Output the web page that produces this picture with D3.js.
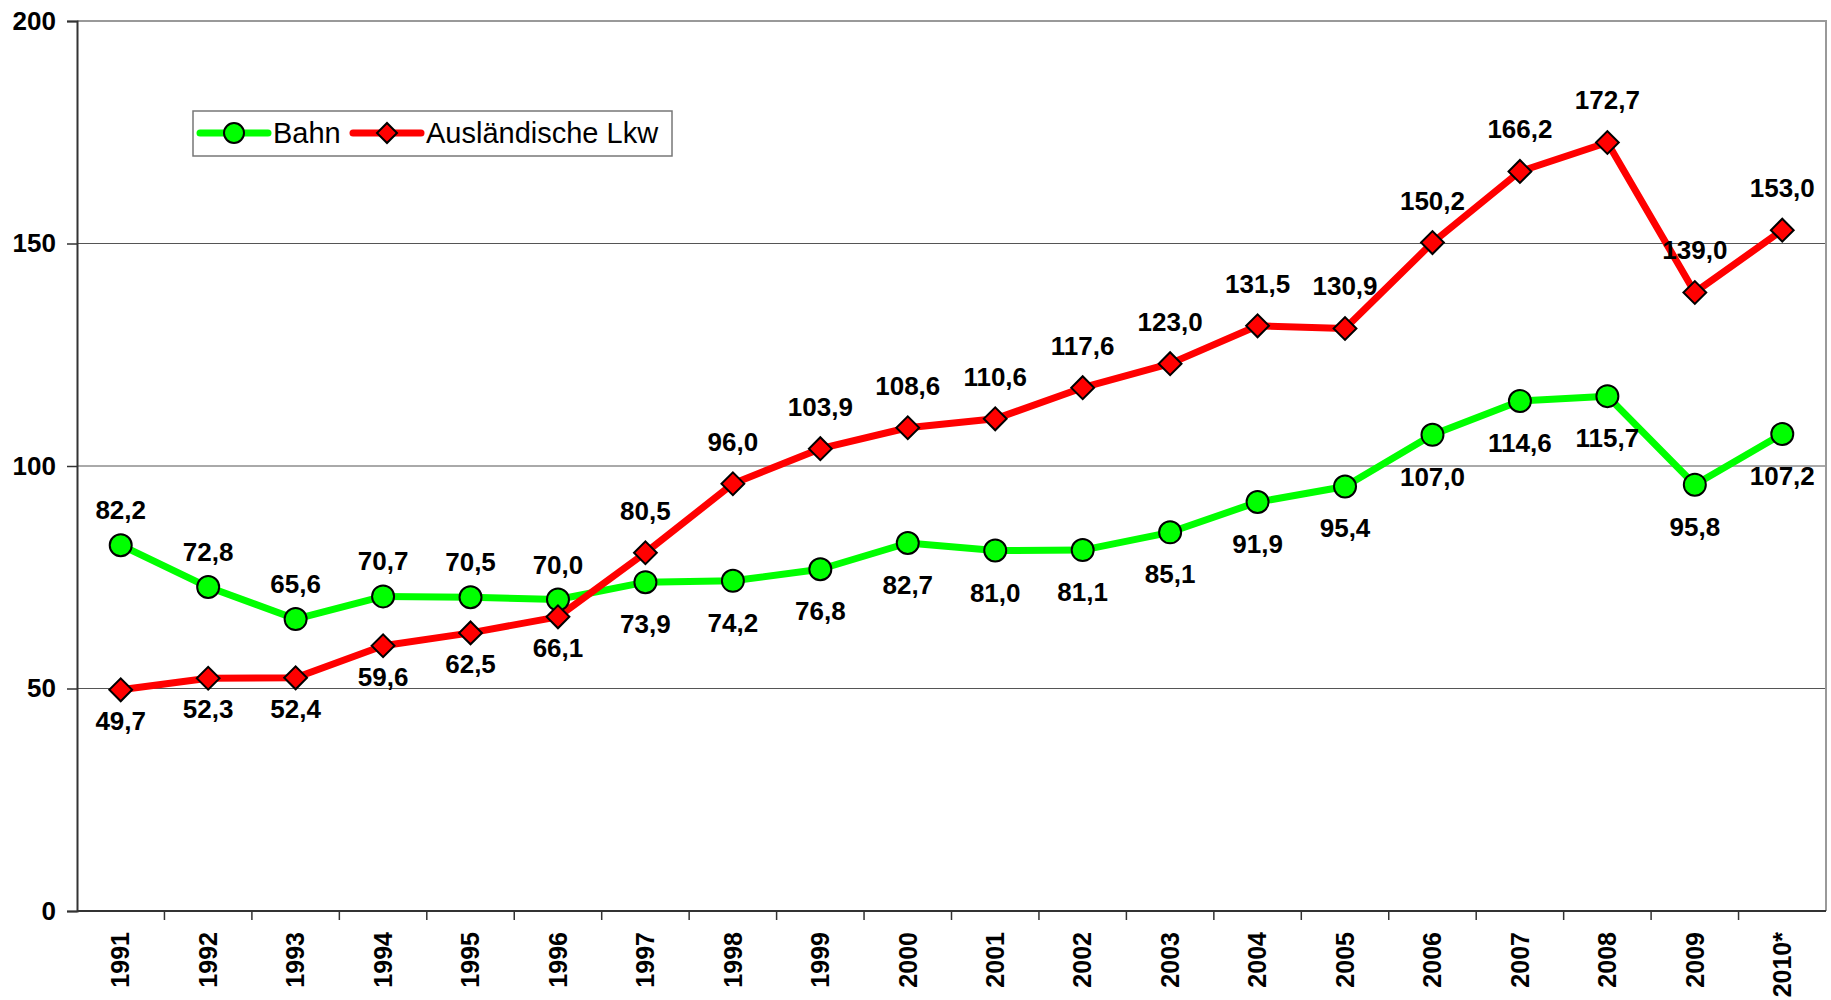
<!DOCTYPE html>
<html>
<head>
<meta charset="utf-8">
<script src="https://cdn.jsdelivr.net/npm/d3@7"></script>
<style>
  body { margin: 0; background: #fff; }
  text { font-family: Arial, "Liberation Sans", sans-serif; }
</style>
</head>
<body>
<div id="chart"></div>
<script>
var w = 1831,
    h = 1000;

// Data
var years = ["1991","1992","1993","1994","1995","1996","1997","1998","1999","2000",
             "2001","2002","2003","2004","2005","2006","2007","2008","2009","2010*"];
var bahn = [82.2, 72.8, 65.6, 70.7, 70.5, 70.0, 73.9, 74.2, 76.8, 82.7,
            81.0, 81.1, 85.1, 91.9, 95.4, 107.0, 114.6, 115.7, 95.8, 107.2];
var lkw = [49.7, 52.3, 52.4, 59.6, 62.5, 66.1, 80.5, 96.0, 103.9, 108.6,
           110.6, 117.6, 123.0, 131.5, 130.9, 150.2, 166.2, 172.7, 139.0, 153.0];
// label placement per point (1 = above, 0 = below)
var bahnAbove = [1,1,1,1,1,1,0,0,0,0,0,0,0,0,0,0,0,0,0,0];
var lkwAbove  = [0,0,0,0,0,0,1,1,1,1,1,1,1,1,1,1,1,1,1,1];
var yTicks = [0, 50, 100, 150, 200];
var seriesNames = ["Bahn", "Ausländische Lkw"];

var m = {left: 77, right: 5, top: 21, bottom: 89};

var svg = d3.select("#chart").append("svg")
    .attr("width", w)
    .attr("height", h);

var x = d3.scaleBand()
    .domain(years)
    .range([m.left, w - m.right]);

var y = d3.scaleLinear()
    .domain([0, 200])
    .range([h - m.bottom, m.top]);

var fmt = function(v) { return d3.format(".1f")(v).replace(".", ","); };

// gridlines
svg.append("g")
    .selectAll("line")
    .data(yTicks.filter(function(d) { return d > 0 && d < 200; }))
    .enter().append("line")
    .attr("x1", m.left).attr("x2", w - m.right)
    .attr("y1", function(d) { return y(d); })
    .attr("y2", function(d) { return y(d); })
    .attr("stroke", "#555")
    .attr("stroke-width", 1);

// top and right frame
svg.append("path")
    .attr("d", "M" + m.left + "," + y(200) + "H" + (w - m.right) + "V" + y(0))
    .attr("fill", "none")
    .attr("stroke", "#999")
    .attr("stroke-width", 2);

// y axis
var yAxis = svg.append("g")
    .attr("transform", "translate(" + m.left + ",0)")
    .call(d3.axisLeft(y).tickValues(yTicks).tickSize(10).tickPadding(11));
yAxis.select(".domain").attr("stroke", "#333").attr("stroke-width", 2);
yAxis.selectAll(".tick line").attr("stroke", "#333").attr("stroke-width", 1.5);
yAxis.selectAll("text")
    .attr("font-size", "26px")
    .attr("font-weight", "bold")
    .attr("fill", "#000");

// x axis: ticks on band boundaries
var xg = svg.append("g");
xg.append("line")
    .attr("x1", m.left).attr("x2", w - m.right)
    .attr("y1", y(0)).attr("y2", y(0))
    .attr("stroke", "#333").attr("stroke-width", 2);
xg.selectAll(".tk")
    .data(years.slice(1))
    .enter().append("line")
    .attr("x1", function(d) { return x(d); })
    .attr("x2", function(d) { return x(d); })
    .attr("y1", y(0)).attr("y2", y(0) + 9)
    .attr("stroke", "#333").attr("stroke-width", 1.5);
xg.selectAll("text")
    .data(years)
    .enter().append("text")
    .attr("transform", function(d) {
      return "translate(" + (x(d) + x.bandwidth() / 2) + "," + (y(0) + 21) + ") rotate(-90)";
    })
    .attr("dy", "0.35em")
    .attr("text-anchor", "end")
    .attr("font-size", "25px")
    .attr("font-weight", "bold")
    .text(function(d) { return d; });

var cx = function(d, i) { return x(years[i]) + x.bandwidth() / 2; };

var line = d3.line()
    .x(function(d, i) { return cx(d, i); })
    .y(function(d) { return y(d); });

// lines
svg.append("path").datum(bahn)
    .attr("d", line).attr("fill", "none")
    .attr("stroke", "#00ff00").attr("stroke-width", 7).attr("stroke-linejoin", "round");
svg.append("path").datum(lkw)
    .attr("d", line).attr("fill", "none")
    .attr("stroke", "#ff0000").attr("stroke-width", 7).attr("stroke-linejoin", "round");

// markers
svg.append("g").selectAll("circle")
    .data(bahn)
    .enter().append("circle")
    .attr("cx", cx)
    .attr("cy", function(d) { return y(d); })
    .attr("r", 11)
    .attr("fill", "#00ff00")
    .attr("stroke", "#000").attr("stroke-width", 2);

var diamond = d3.symbol().type(d3.symbolSquare).size(260);
svg.append("g").selectAll("path")
    .data(lkw)
    .enter().append("path")
    .attr("d", diamond)
    .attr("transform", function(d, i) { return "translate(" + cx(d, i) + "," + y(d) + ") rotate(45)"; })
    .attr("fill", "#ff0000")
    .attr("stroke", "#000").attr("stroke-width", 2);

// data labels
function labels(data, above, upOff, downOff) {
  svg.append("g").selectAll("text")
    .data(data)
    .enter().append("text")
    .attr("x", cx)
    .attr("y", function(d, i) { return y(d) + (above[i] ? upOff : downOff); })
    .attr("text-anchor", "middle")
    .attr("font-size", "26px")
    .attr("font-weight", "bold")
    .attr("fill", "#000")
    .text(fmt);
}
labels(bahn, bahnAbove, -26, 51);
labels(lkw, lkwAbove, -33, 40);

// legend
var legend = svg.append("g").attr("class", "legend");
legend.append("rect")
    .attr("x", 193).attr("y", 111)
    .attr("width", 479).attr("height", 45)
    .attr("fill", "#fff")
    .attr("stroke", "#777").attr("stroke-width", 1.5);

var lx = [200, 353];
legend.selectAll(".ll")
    .data(seriesNames)
    .enter().append("line")
    .attr("x1", function(d, i) { return lx[i]; })
    .attr("x2", function(d, i) { return lx[i] + 68; })
    .attr("y1", 133).attr("y2", 133)
    .attr("stroke", function(d, i) { return i ? "#ff0000" : "#00ff00"; })
    .attr("stroke-width", 7)
    .attr("stroke-linecap", "round");
legend.append("circle")
    .attr("cx", lx[0] + 34).attr("cy", 133).attr("r", 10)
    .attr("fill", "#00ff00").attr("stroke", "#000").attr("stroke-width", 2);
legend.append("path")
    .attr("d", d3.symbol().type(d3.symbolSquare).size(200))
    .attr("transform", "translate(" + (lx[1] + 34) + ",133) rotate(45)")
    .attr("fill", "#ff0000").attr("stroke", "#000").attr("stroke-width", 2);
legend.selectAll(".lt")
    .data(seriesNames)
    .enter().append("text")
    .attr("x", function(d, i) { return lx[i] + 73; })
    .attr("y", 133)
    .attr("dy", "0.36em")
    .attr("font-size", "29px")
    .attr("fill", "#000")
    .text(function(d) { return d; });
</script>
</body>
</html>
